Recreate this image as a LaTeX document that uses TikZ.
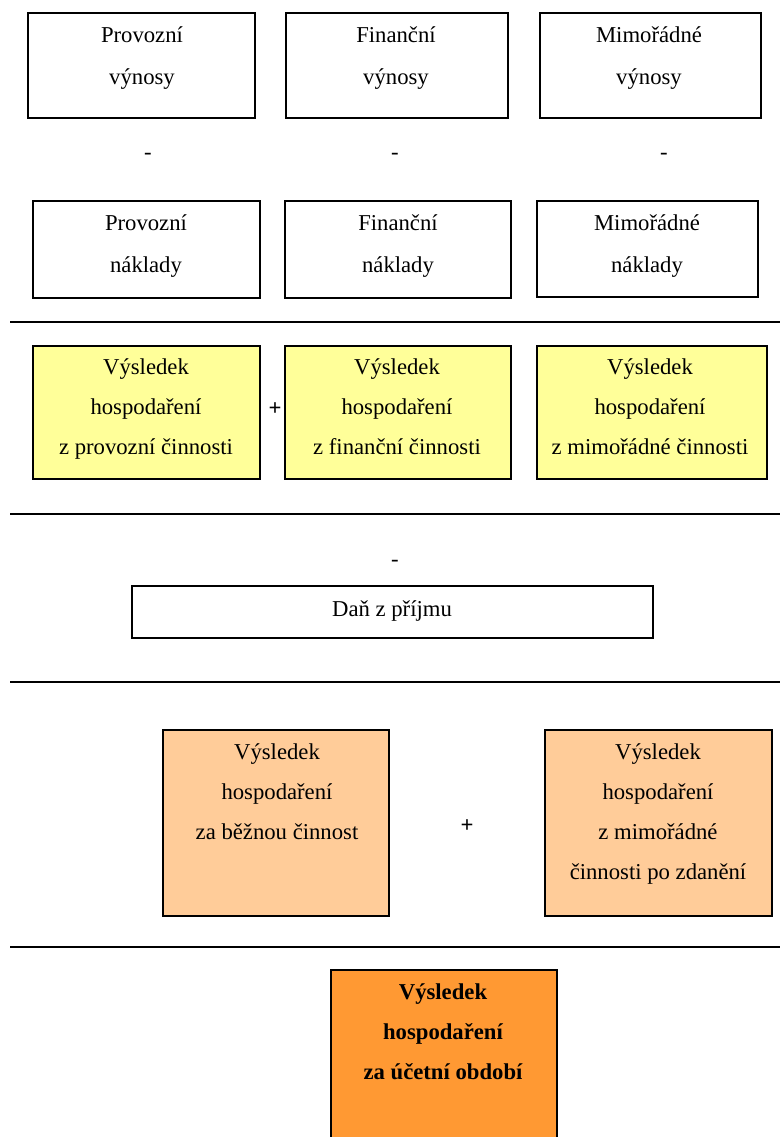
\documentclass[tikz,border=0pt]{standalone}
\usepackage{fontspec}
\setmainfont{Liberation Serif}

\definecolor{vhyellow}{HTML}{FFFF99}
\definecolor{vhpeach}{HTML}{FFCC99}
\definecolor{vhorange}{HTML}{FF9933}

\begin{document}
\begin{tikzpicture}[x = 1pt, y = -1pt,
    box/.style = {draw = black, line width = 1.5pt, inner sep = 0pt},
    txt/.style = {align = center, font = \fontsize{22.7}{40}\selectfont,
        execute at begin node = \strut, execute at end node = \strut},
    rule/.style = {draw = black, line width = 2pt}]
    \useasboundingbox (0, 0) rectangle (780, 1137);
    \clip (0, 0) rectangle (780, 1137);

    % vynosy
    \node [box, minimum width = 227pt, minimum height = 105pt] (vynP) at (141.5, 65.5) {};
    \node [box, minimum width = 222pt, minimum height = 105pt] (vynF) at (397, 65.5) {};
    \node [box, minimum width = 221pt, minimum height = 105pt] (vynM) at (650.5, 65.5) {};
    \node [txt, font = \fontsize{22.7}{42}\selectfont] (vynPt) at (142, 62) {Provozní\\výnosy};
    \node [txt, font = \fontsize{22.7}{42}\selectfont] (vynFt) at (396, 62) {Finanční\\výnosy};
    \node [txt, font = \fontsize{22.7}{42}\selectfont] (vynMt) at (649, 62) {Mimořádné\\výnosy};

    \node [txt] (minP) at (148, 151.5) {-};
    \node [txt] (minF) at (395, 151.5) {-};
    \node [txt] (minM) at (664, 151.5) {-};

    % naklady
    \node [box, minimum width = 227pt, minimum height = 97pt] (nakP) at (146.5, 249.5) {};
    \node [box, minimum width = 226pt, minimum height = 97pt] (nakF) at (398, 249.5) {};
    \node [box, minimum width = 221pt, minimum height = 96pt] (nakM) at (647.5, 249) {};
    \node [txt, font = \fontsize{22.7}{42}\selectfont] (nakPt) at (146, 250) {Provozní\\náklady};
    \node [txt, font = \fontsize{22.7}{42}\selectfont] (nakFt) at (398, 250) {Finanční\\náklady};
    \node [txt, font = \fontsize{22.7}{42}\selectfont] (nakMt) at (647, 250) {Mimořádné\\náklady};

    \draw [rule] (10, 322) -- (780, 322);

    %%%%%%%%%%%%%%%%%%%%
    \node [box, fill = vhyellow, minimum width = 227pt, minimum height = 133pt] (vhP) at (146.5, 412.5) {};
    \node [box, fill = vhyellow, minimum width = 226pt, minimum height = 133pt] (vhF) at (398, 412.5) {};
    \node [box, fill = vhyellow, minimum width = 230pt, minimum height = 133pt] (vhM) at (652, 412.5) {};
    \node [txt] (vhPt) at (146, 413) {Výsledek\\hospodaření\\z provozní činnosti};
    \node [txt] (vhFt) at (397, 413) {Výsledek\\hospodaření\\z finanční činnosti};
    \node [txt] (vhMt) at (650, 413) {Výsledek\\hospodaření\\z mimořádné činnosti};
    \node [txt, font = \fontsize{22.7}{40}\selectfont\bfseries] (plusA) at (275, 407.5) {+};

    \draw [rule] (10, 514) -- (780, 514);

    %%%%%%%%%%%%%%%%%%%%
    \node [txt] (minD) at (395, 558.5) {-};
    \node [box, minimum width = 521pt, minimum height = 52pt] (dan) at (392.5, 612) {};
    \node [txt] (dant) at (392, 608) {Daň z příjmu};

    \draw [rule] (10, 682) -- (780, 682);

    %%%%%%%%%%%%%%%%%%%%
    \node [box, fill = vhpeach, minimum width = 226pt, minimum height = 186pt] (vhB) at (276, 823) {};
    \node [box, fill = vhpeach, minimum width = 227pt, minimum height = 186pt] (vhZ) at (658.5, 823) {};
    \node [txt] (vhBt) at (277, 798) {Výsledek\\hospodaření\\za běžnou činnost};
    \node [txt] (vhZt) at (658, 817.5) {Výsledek\\hospodaření\\z mimořádné\\činnosti po zdanění};
    \node [txt, font = \fontsize{22.7}{40}\selectfont\bfseries] (plusB) at (467, 824.5) {+};

    \draw [rule] (10, 947) -- (780, 947);

    %%%%%%%%%%%%%%%%%%%%
    \node [box, fill = vhorange, minimum width = 226pt, minimum height = 190pt] (vhU) at (444, 1065) {};
    \node [txt, font = \fontsize{22.7}{40}\selectfont\bfseries] (vhUt) at (443, 1038) {Výsledek\\hospodaření\\za účetní období};
\end{tikzpicture}
\end{document}
